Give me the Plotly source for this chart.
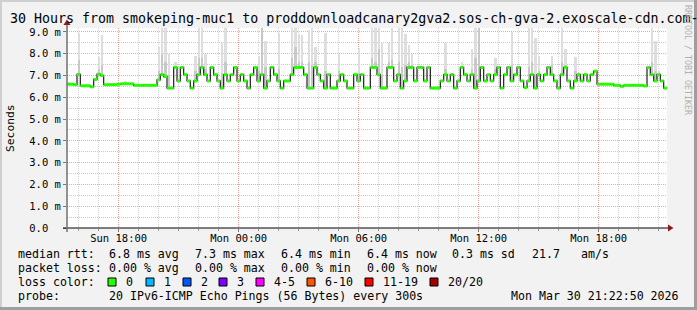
import plotly.graph_objects as go
import pandas as pd
import numpy as np

# ---------------- data ----------------
start_time = "2026-03-29 15:25"
step_minutes = 10

median_ms = [
    6.6, 6.6, 6.58, 7.05, 6.53, 6.53, 6.53, 6.48, 6.82, 7.06,
    7.0, 6.58, 6.58, 6.58, 6.58, 6.6, 6.62, 6.62, 6.62, 6.62,
    6.55, 6.55, 6.55, 6.55, 6.55, 6.55, 6.55, 6.8, 7.04, 6.95,
    6.42, 6.42, 7.37, 6.75, 7.37, 7.04, 6.75, 6.42, 6.75, 7.04,
    7.37, 7.04, 6.75, 7.37, 7.04, 6.75, 6.42, 7.04, 6.75, 7.04,
    7.37, 6.75, 7.04, 6.75, 6.42, 7.04, 7.37, 6.75, 7.04, 6.42,
    6.75, 7.37, 7.04, 6.75, 6.42, 6.75, 6.75, 7.04, 7.37, 7.37,
    7.37, 7.04, 6.42, 6.42, 7.37, 7.04, 6.75, 6.42, 7.04, 6.42,
    6.42, 6.75, 7.04, 6.75, 6.42, 6.42, 7.04, 6.75, 7.04, 6.42,
    6.42, 7.37, 7.37, 7.04, 6.42, 6.42, 7.37, 7.37, 6.75, 7.04,
    6.42, 6.75, 7.37, 7.37, 6.75, 7.37, 7.37, 6.75, 7.37, 6.42,
    6.42, 6.42, 6.75, 7.04, 6.75, 7.04, 6.42, 6.75, 7.37, 7.04,
    6.75, 7.04, 6.42, 6.75, 7.37, 6.75, 7.04, 6.75, 7.04, 7.37,
    6.42, 7.04, 7.37, 6.75, 7.04, 7.37, 6.75, 6.45, 6.75, 7.04,
    6.42, 7.04, 6.75, 7.04, 7.37, 7.04, 6.75, 6.42, 7.04, 7.37,
    6.75, 6.42, 6.75, 7.04, 6.75, 7.04, 6.75, 7.04, 7.2, 6.6,
    6.6, 6.6, 6.6, 6.6, 6.55, 6.55, 6.5, 6.55, 6.55, 6.55,
    6.55, 6.55, 6.55, 6.52, 7.37, 7.04, 6.75, 7.04, 6.75, 6.42,
]

spike_slots = [0, 3, 9, 10, 17, 27, 28, 29, 30, 32, 38, 39, 40, 41, 46, 47, 57, 58, 59,
               63, 67, 68, 69, 70, 72, 73, 74, 77, 81, 87, 91, 92, 93, 94, 96, 97, 99,
               100, 101, 102, 103, 113, 118, 121, 122, 123, 128, 133, 138, 139, 140,
               141, 145, 148, 149, 152, 154, 175, 176, 177]
spike_top_ms = [6.72, 8.95, 7.85, 8.85, 6.75, 8.3, 9.3, 9.3, 8.0, 7.6, 7.9, 9.3, 9.3, 8.0, 8.5, 9.3, 7.9, 9.3, 8.6,
                8.95, 9.3, 9.3, 8.9, 8.85, 9.1, 9.2, 8.3, 8.95, 8.0, 8.2, 9.3, 9.3, 9.3, 8.5, 8.5, 9.3, 9.3,
                9.3, 8.9, 8.4, 8.0, 8.5, 7.6, 8.2, 9.3, 9.3, 7.8, 9.0, 9.2, 9.3, 8.7,
                7.9, 7.9, 9.2, 8.2, 7.85, 7.1, 9.3, 8.6, 7.2]
spike_mid_ms = [6.6, 7.7, 7.3, 7.5, 6.62, 7.2, 8.0, 7.6, 7.0, 7.45, 7.2, 7.8, 7.8, 7.3, 7.1, 7.6, 7.2, 9.3, 7.4,
                7.3, 7.8, 8.3, 7.6, 7.6, 7.6, 7.5, 7.6, 7.2, 7.2, 7.1, 7.8, 7.6, 8.2, 7.0, 7.6, 7.7, 7.6,
                7.4, 7.5, 7.6, 7.5, 7.3, 7.45, 7.3, 7.8, 9.3, 7.3, 7.5, 7.4, 7.6, 7.0,
                7.2, 7.5, 7.6, 7.5, 7.2, 6.75, 7.6, 7.2, 6.75]

y_tick_values = [0, 1, 2, 3, 4, 5, 6, 7, 8, 9]
y_tick_labels = ["0.0\u00a0\u00a0", "1.0 m", "2.0 m", "3.0 m", "4.0 m", "5.0 m",
                 "6.0 m", "7.0 m", "8.0 m", "9.0 m"]
x_tick_values = ["2026-03-29 18:00", "2026-03-30 00:00", "2026-03-30 06:00",
                 "2026-03-30 12:00", "2026-03-30 18:00"]
x_tick_labels = ["Sun 18:00", "Mon 00:00", "Mon 06:00", "Mon 12:00", "Mon 18:00"]

rtt_stats = [("6.8", "ms avg"), ("7.3", "ms max"), ("6.4", "ms min"), ("6.4", "ms now"), ("0.3", "ms sd")]
rtt_am = "21.7"
loss_stats = [("0.00", "% avg"), ("0.00", "% max"), ("0.00", "% min"), ("0.00", "% now")]
loss_labels = ["0", "1", "2", "3", "4-5", "6-10", "11-19", "20/20"]
loss_colors = ["#26ff00", "#00b8ff", "#0059ff", "#7e00ff", "#ff00ff", "#ff5500", "#ff0000", "#a00000"]
probe_text = "20 IPv6-ICMP Echo Pings (56 Bytes) every 300s"
stamp_text = "Mon Mar 30 21:22:50 2026"
title_text = "30 Hours from smokeping-muc1 to proddownloadcanary2gva2.sos-ch-gva-2.exoscale-cdn.com-"

# ---------------- layout geometry ----------------
W, H = 697, 310
L, R, T, B = 67, 667, 28, 228
MONO = "DejaVu Sans Mono"


def fx(px):
    return (px - L) / (R - L)


def fy(py):
    return (B - py) / (B - T)


n = len(median_ms)
times = pd.date_range(start_time, periods=n + 1, freq=f"{step_minutes}min")
centers = times[:-1] + pd.Timedelta(minutes=step_minutes / 2)
med = np.array(median_ms)

fig = go.Figure()

bar_w = 7 * 60000
# smoke (light)
sx = [centers[i] for i in spike_slots]
sbase = [med[i] for i in spike_slots]
fig.add_trace(go.Bar(
    x=sx, base=sbase, y=[t - b for t, b in zip(spike_top_ms, sbase)],
    width=bar_w, marker=dict(color="#dedede", line=dict(width=0)),
    hoverinfo="skip", showlegend=False))
# smoke (darker core)
fig.add_trace(go.Bar(
    x=sx, base=sbase, y=[max(m - b, 0) for m, b in zip(spike_mid_ms, sbase)],
    width=bar_w, marker=dict(color="#c8c8c8", line=dict(width=0)),
    hoverinfo="skip", showlegend=False))

# median line (dark)
fig.add_trace(go.Scatter(
    x=list(times), y=list(med) + [med[-1]], mode="lines",
    line=dict(color="#202020", width=1.2, shape="hv"),
    hoverinfo="skip", showlegend=False))

# loss-coloured median band (0 loss -> green)
gx, gy = [], []
for i in range(n):
    gx += [times[i], times[i + 1], None]
    gy += [med[i], med[i], None]
fig.add_trace(go.Scatter(
    x=gx, y=gy, mode="lines", line=dict(color=loss_colors[0], width=3),
    hoverinfo="skip", showlegend=False, connectgaps=False))

grid_dash = "1px,1px"
fig.update_xaxes(
    type="date", range=[times[0], times[-1]],
    tickmode="array", tickvals=x_tick_values, ticktext=x_tick_labels,
    showgrid=True, gridcolor="#f29b9b", griddash=grid_dash, gridwidth=1,
    ticks="outside", ticklen=3, tickcolor="#777777", ticklabelstandoff=-3,
    tickfont=dict(family=MONO, size=10.5, color="#000000"),
    showline=False, zeroline=False,
    minor=dict(tickmode="linear", tick0="2026-03-29 16:00", dtick=3600000,
               showgrid=True, gridcolor="#d2d2d2", griddash=grid_dash, gridwidth=1,
               ticks="outside", ticklen=2, tickcolor="#999999"),
)
fig.update_yaxes(
    range=[0, 9.18], tickmode="array", tickvals=y_tick_values, ticktext=y_tick_labels,
    showgrid=True, gridcolor="#e8aaaa", griddash=grid_dash, gridwidth=1,
    ticks="outside", ticklen=3, tickcolor="#777777",
    tickfont=dict(family=MONO, size=10.5, color="#000000"),
    showline=False, zeroline=False,
    minor=dict(tickmode="linear", tick0=0, dtick=0.5, showgrid=True,
               gridcolor="#e0c0c0", griddash=grid_dash, gridwidth=1),
)

shapes = []
# frame
shapes.append(dict(type="line", xref="paper", yref="paper", x0=fx(0), x1=fx(697), y0=fy(1), y1=fy(1),
                   line=dict(color="#cfcfcf", width=2)))
shapes.append(dict(type="line", xref="paper", yref="paper", x0=fx(1), x1=fx(1), y0=fy(0), y1=fy(310),
                   line=dict(color="#cfcfcf", width=2)))
shapes.append(dict(type="line", xref="paper", yref="paper", x0=fx(0), x1=fx(697), y0=fy(308.5), y1=fy(308.5),
                   line=dict(color="#9e9e9e", width=3)))
shapes.append(dict(type="line", xref="paper", yref="paper", x0=fx(695.5), x1=fx(695.5), y0=fy(0), y1=fy(310),
                   line=dict(color="#9e9e9e", width=3)))
# axes
shapes.append(dict(type="line", xref="paper", yref="paper", x0=fx(63), x1=fx(670), y0=fy(228), y1=fy(228),
                   line=dict(color="#000000", width=1)))
shapes.append(dict(type="line", xref="paper", yref="paper", x0=fx(67), x1=fx(67), y0=fy(232), y1=fy(24),
                   line=dict(color="#707070", width=1.5)))
# arrows
shapes.append(dict(type="path", xref="paper", yref="paper",
                   path=f"M {fx(668)} {fy(224.5)} L {fx(673.5)} {fy(228)} L {fx(668)} {fy(231.5)} Z",
                   fillcolor="#8b1a1a", line=dict(width=0)))
shapes.append(dict(type="path", xref="paper", yref="paper",
                   path=f"M {fx(63.5)} {fy(25)} L {fx(67)} {fy(19.5)} L {fx(70.5)} {fy(25)} Z",
                   fillcolor="#8b1a1a", line=dict(width=0)))

ann = []


def text(px, py, s, size=11.6, anchor="left", color="#000000", angle=0):
    ann.append(dict(xref="paper", yref="paper", x=fx(px), y=fy(py), text=s, showarrow=False,
                    xanchor=anchor, yanchor="middle", textangle=angle,
                    font=dict(family=MONO, size=size, color=color)))


text(8, 18.5, title_text, size=13.3)
text(10, 128, "Seconds", size=11.3, anchor="center", angle=-90)
text(688, 60, "RRDTOOL / TOBI OETIKER", size=8.3, anchor="center", color="#b0b0b0", angle=90)

col_x = [107, 193, 279, 365, 450]
text(16, 254, "median rtt:")
for (v, u), cx in zip(rtt_stats, col_x):
    text(cx, 254, f"{v} {u}")
text(530, 254, rtt_am)
text(579, 254, "am/s")

text(16, 268, "packet loss:")
for (v, u), cx in zip(loss_stats, col_x):
    text(cx, 268, f"{v} {u}")

text(16, 282, "loss color:")
box_x = [108, 146, 183, 219, 256, 307, 365, 430]
for lab, colr, bx in zip(loss_labels, loss_colors, box_x):
    shapes.append(dict(type="rect", xref="paper", yref="paper",
                       x0=fx(bx), x1=fx(bx + 8), y0=fy(286), y1=fy(278),
                       fillcolor=colr, line=dict(color="#000000", width=1)))
    text(bx + 16, 282, lab)

text(16, 296, "probe:")
text(107, 296, probe_text)
text(681, 296, stamp_text, anchor="right")

fig.update_layout(
    width=W, height=H,
    margin=dict(l=L, r=W - R, t=T, b=H - B, pad=0),
    paper_bgcolor="#f2f2f2", plot_bgcolor="#ffffff",
    barmode="overlay", bargap=0,
    showlegend=False,
    shapes=shapes, annotations=ann,
    font=dict(family=MONO),
)

fig.write_html("out.html")
